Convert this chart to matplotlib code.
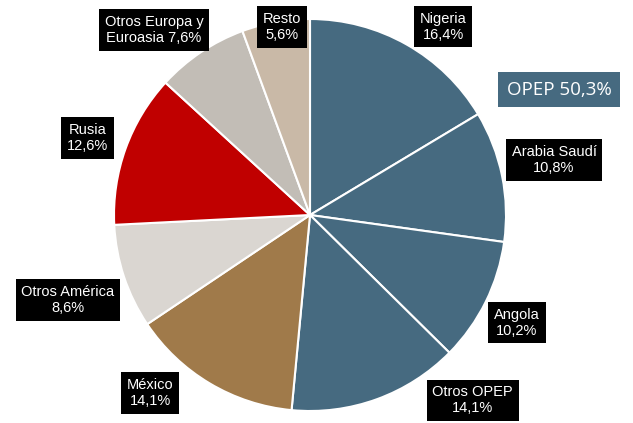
import numpy as np
import matplotlib.pyplot as plt

labels = ["Nigeria", "Arabia Saudí", "Angola", "Otros OPEP", "México",
          "Otros América", "Rusia", "Otros Europa y\nEuroasia", "Resto"]
values = [16.4, 10.8, 10.2, 14.1, 14.1, 8.6, 12.6, 7.6, 5.6]
opep_total = 50.3

colors = ["#466a80", "#466a80", "#466a80", "#466a80", "#a07a4a",
          "#dad6d1", "#c00000", "#c2bdb6", "#c9b9a7"]

# label box centres, in pie radius units
label_pos = [(0.68, 0.96), (1.245, 0.28), (1.056, -0.55), (0.83, -0.945),
             (-0.816, -0.908), (-1.235, -0.434), (-1.133, 0.393),
             (-0.796, 0.944), (-0.143, 0.959)]
opep_pos = (1.27, 0.64)

fig = plt.figure(figsize=(6.33, 4.23), dpi=100)
ax = fig.add_axes([0, 0, 1, 1])

ax.pie(values, colors=colors, startangle=90, counterclock=False, radius=1,
       wedgeprops=dict(edgecolor="white", linewidth=1.5))

def fmt(v):
    return f"{v:.1f}".replace(".", ",") + "%"

for lab, v, (x, y) in zip(labels, values, label_pos):
    if "\n" in lab:
        txt = lab + " " + fmt(v)
    else:
        txt = lab + "\n" + fmt(v)
    ax.text(x, y, txt, ha="center", va="center", color="white", fontsize=10.5,
            family="Liberation Sans", linespacing=1.15,
            bbox=dict(boxstyle="square,pad=0.4", fc="black", ec="none"))

ax.text(opep_pos[0], opep_pos[1], "OPEP " + fmt(opep_total), ha="center", va="center",
        color="white", fontsize=13.5, family="Open Sans",
        bbox=dict(boxstyle="square,pad=0.45", fc="#466a80", ec="none"))

ax.set_xlim(-310 / 196, 323 / 196)
ax.set_ylim(-208 / 196, 215 / 196)
ax.set_aspect("auto")
ax.axis("off")

fig.savefig("out.png", dpi=100)
